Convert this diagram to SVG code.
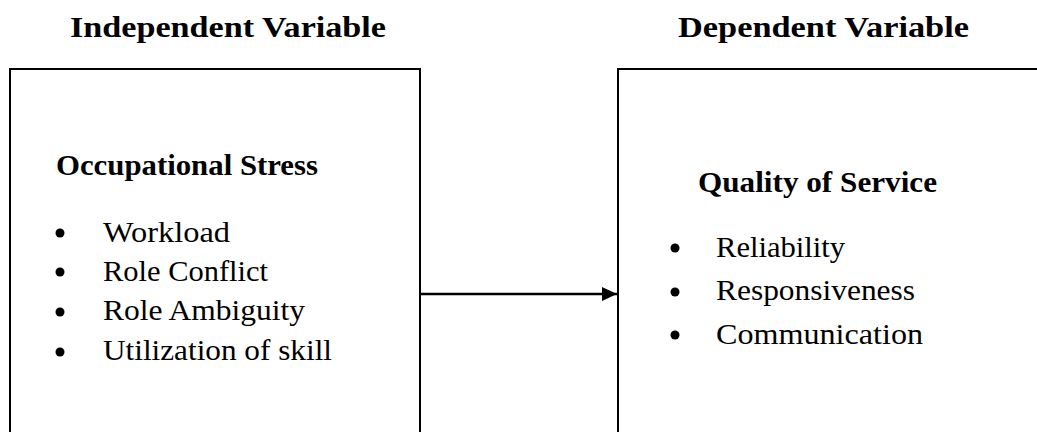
<svg xmlns="http://www.w3.org/2000/svg" width="1037" height="432" viewBox="0 0 1037 432">
<style>
.box{fill:#fff;stroke:#000;stroke-width:2}
.title{font-family:"Liberation Serif","DejaVu Serif",serif;font-weight:bold;font-size:30px;fill:#000}
.item{font-family:"Liberation Serif","DejaVu Serif",serif;font-size:29.5px;fill:#000}
.dot{fill:#000}
.conn{stroke:#000;stroke-width:2.5;fill:none}
</style>
<defs>
<marker id="arr" markerUnits="userSpaceOnUse" markerWidth="16" markerHeight="16" refX="15" refY="8" orient="auto">
<path d="M0,1 L15,8 L0,15 Z" fill="#000"/>
</marker>
</defs>
<rect width="1037" height="432" fill="#fff"/>
<g id="heading-independent">
<text class="title" x="70" y="37" textLength="316" lengthAdjust="spacingAndGlyphs">Independent Variable</text>
</g>
<g id="heading-dependent">
<text class="title" x="678" y="37" textLength="291" lengthAdjust="spacingAndGlyphs">Dependent Variable</text>
</g>
<g id="node-occupational-stress">
<rect class="box" x="10" y="69" width="410" height="400"/>
<text class="title" x="56" y="175" textLength="262" lengthAdjust="spacingAndGlyphs">Occupational Stress</text>
<circle class="dot" cx="60" cy="233" r="4.5"/>
<text class="item" x="103" y="242" textLength="127" lengthAdjust="spacingAndGlyphs">Workload</text>
<circle class="dot" cx="60" cy="272" r="4.5"/>
<text class="item" x="103" y="281" textLength="165" lengthAdjust="spacingAndGlyphs">Role Conflict</text>
<circle class="dot" cx="60" cy="312" r="4.5"/>
<text class="item" x="103" y="320" textLength="202" lengthAdjust="spacingAndGlyphs">Role Ambiguity</text>
<circle class="dot" cx="60" cy="352" r="4.5"/>
<text class="item" x="103" y="360" textLength="229" lengthAdjust="spacingAndGlyphs">Utilization of skill</text>
</g>
<g id="node-quality-of-service">
<rect class="box" x="618" y="69" width="500" height="400"/>
<text class="title" x="698" y="192" textLength="239" lengthAdjust="spacingAndGlyphs">Quality of Service</text>
<circle class="dot" cx="675" cy="248" r="4.5"/>
<text class="item" x="716" y="257" textLength="129" lengthAdjust="spacingAndGlyphs">Reliability</text>
<circle class="dot" cx="675" cy="292" r="4.5"/>
<text class="item" x="716" y="300" textLength="199" lengthAdjust="spacingAndGlyphs">Responsiveness</text>
<circle class="dot" cx="675" cy="335" r="4.5"/>
<text class="item" x="716" y="344" textLength="207" lengthAdjust="spacingAndGlyphs">Communication</text>
</g>
<g id="connectors">
<line class="conn" x1="420" y1="294" x2="617" y2="294" marker-end="url(#arr)"/>
</g>
</svg>
